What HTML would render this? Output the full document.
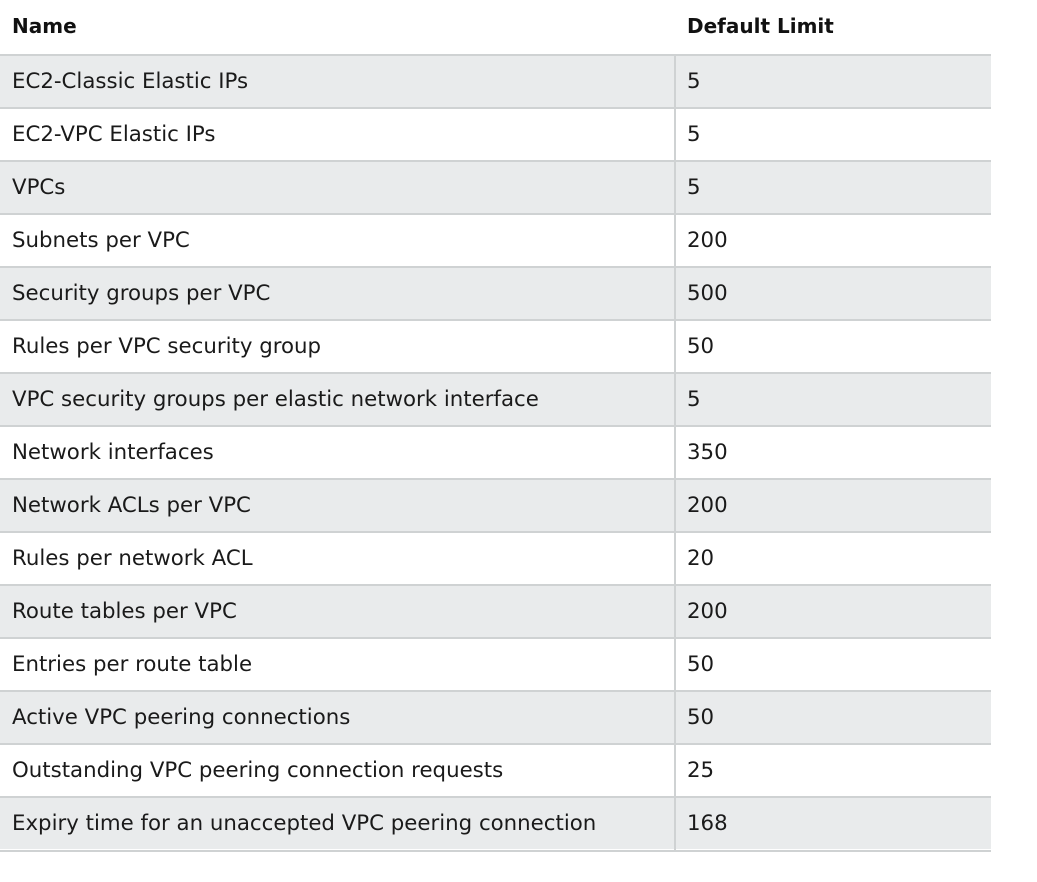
<!DOCTYPE html>
<html><head><meta charset="utf-8"><style>
body{margin:0;width:1037px;height:882px;background:#fff;font-family:"DejaVu Sans","Liberation Sans",sans-serif;color:#1a1a1a;position:relative;overflow:hidden}
.h{position:absolute;top:14px;font-weight:bold;font-size:20px;color:#111}
.r{position:absolute;left:0;width:991px;height:51px;border-top:2px solid #cfd2d3}
.r.g{background:#e9ebec}
.c{position:absolute;top:0;line-height:51px;font-size:21.3px}
.d{position:absolute;left:674px;top:0;width:2px;height:53px;background:#cfd2d3}
.bot{position:absolute;left:0;width:991px;height:2px;background:#cfd2d3}
</style></head><body>
<div class="h" style="left:12px">Name</div>
<div class="h" style="left:687px">Default Limit</div>
<div id="t"></div>
<script>
const names=["EC2-Classic Elastic IPs","EC2-VPC Elastic IPs","VPCs","Subnets per VPC","Security groups per VPC","Rules per VPC security group","VPC security groups per elastic network interface","Network interfaces","Network ACLs per VPC","Rules per network ACL","Route tables per VPC","Entries per route table","Active VPC peering connections","Outstanding VPC peering connection requests","Expiry time for an unaccepted VPC peering connection"];
const limits=["5","5","5","200","500","50","5","350","200","20","200","50","50","25","168"];
const t=document.getElementById('t');
names.forEach((n,i)=>{
const r=document.createElement('div');


r.className='r'+(i%2==0?' g':'');
r.style.top=(53.5+i*53.07)+'px';
r.innerHTML='<div class="c" style="left:12px">'+n+'</div><div class="d"></div><div class="c" style="left:687px">'+limits[i]+'</div>';
t.appendChild(r);
});
const b=document.createElement('div');


b.className='bot';b.style.top=(53.5+15*53.07)+'px';
t.appendChild(b);
</script>
</body></html>
